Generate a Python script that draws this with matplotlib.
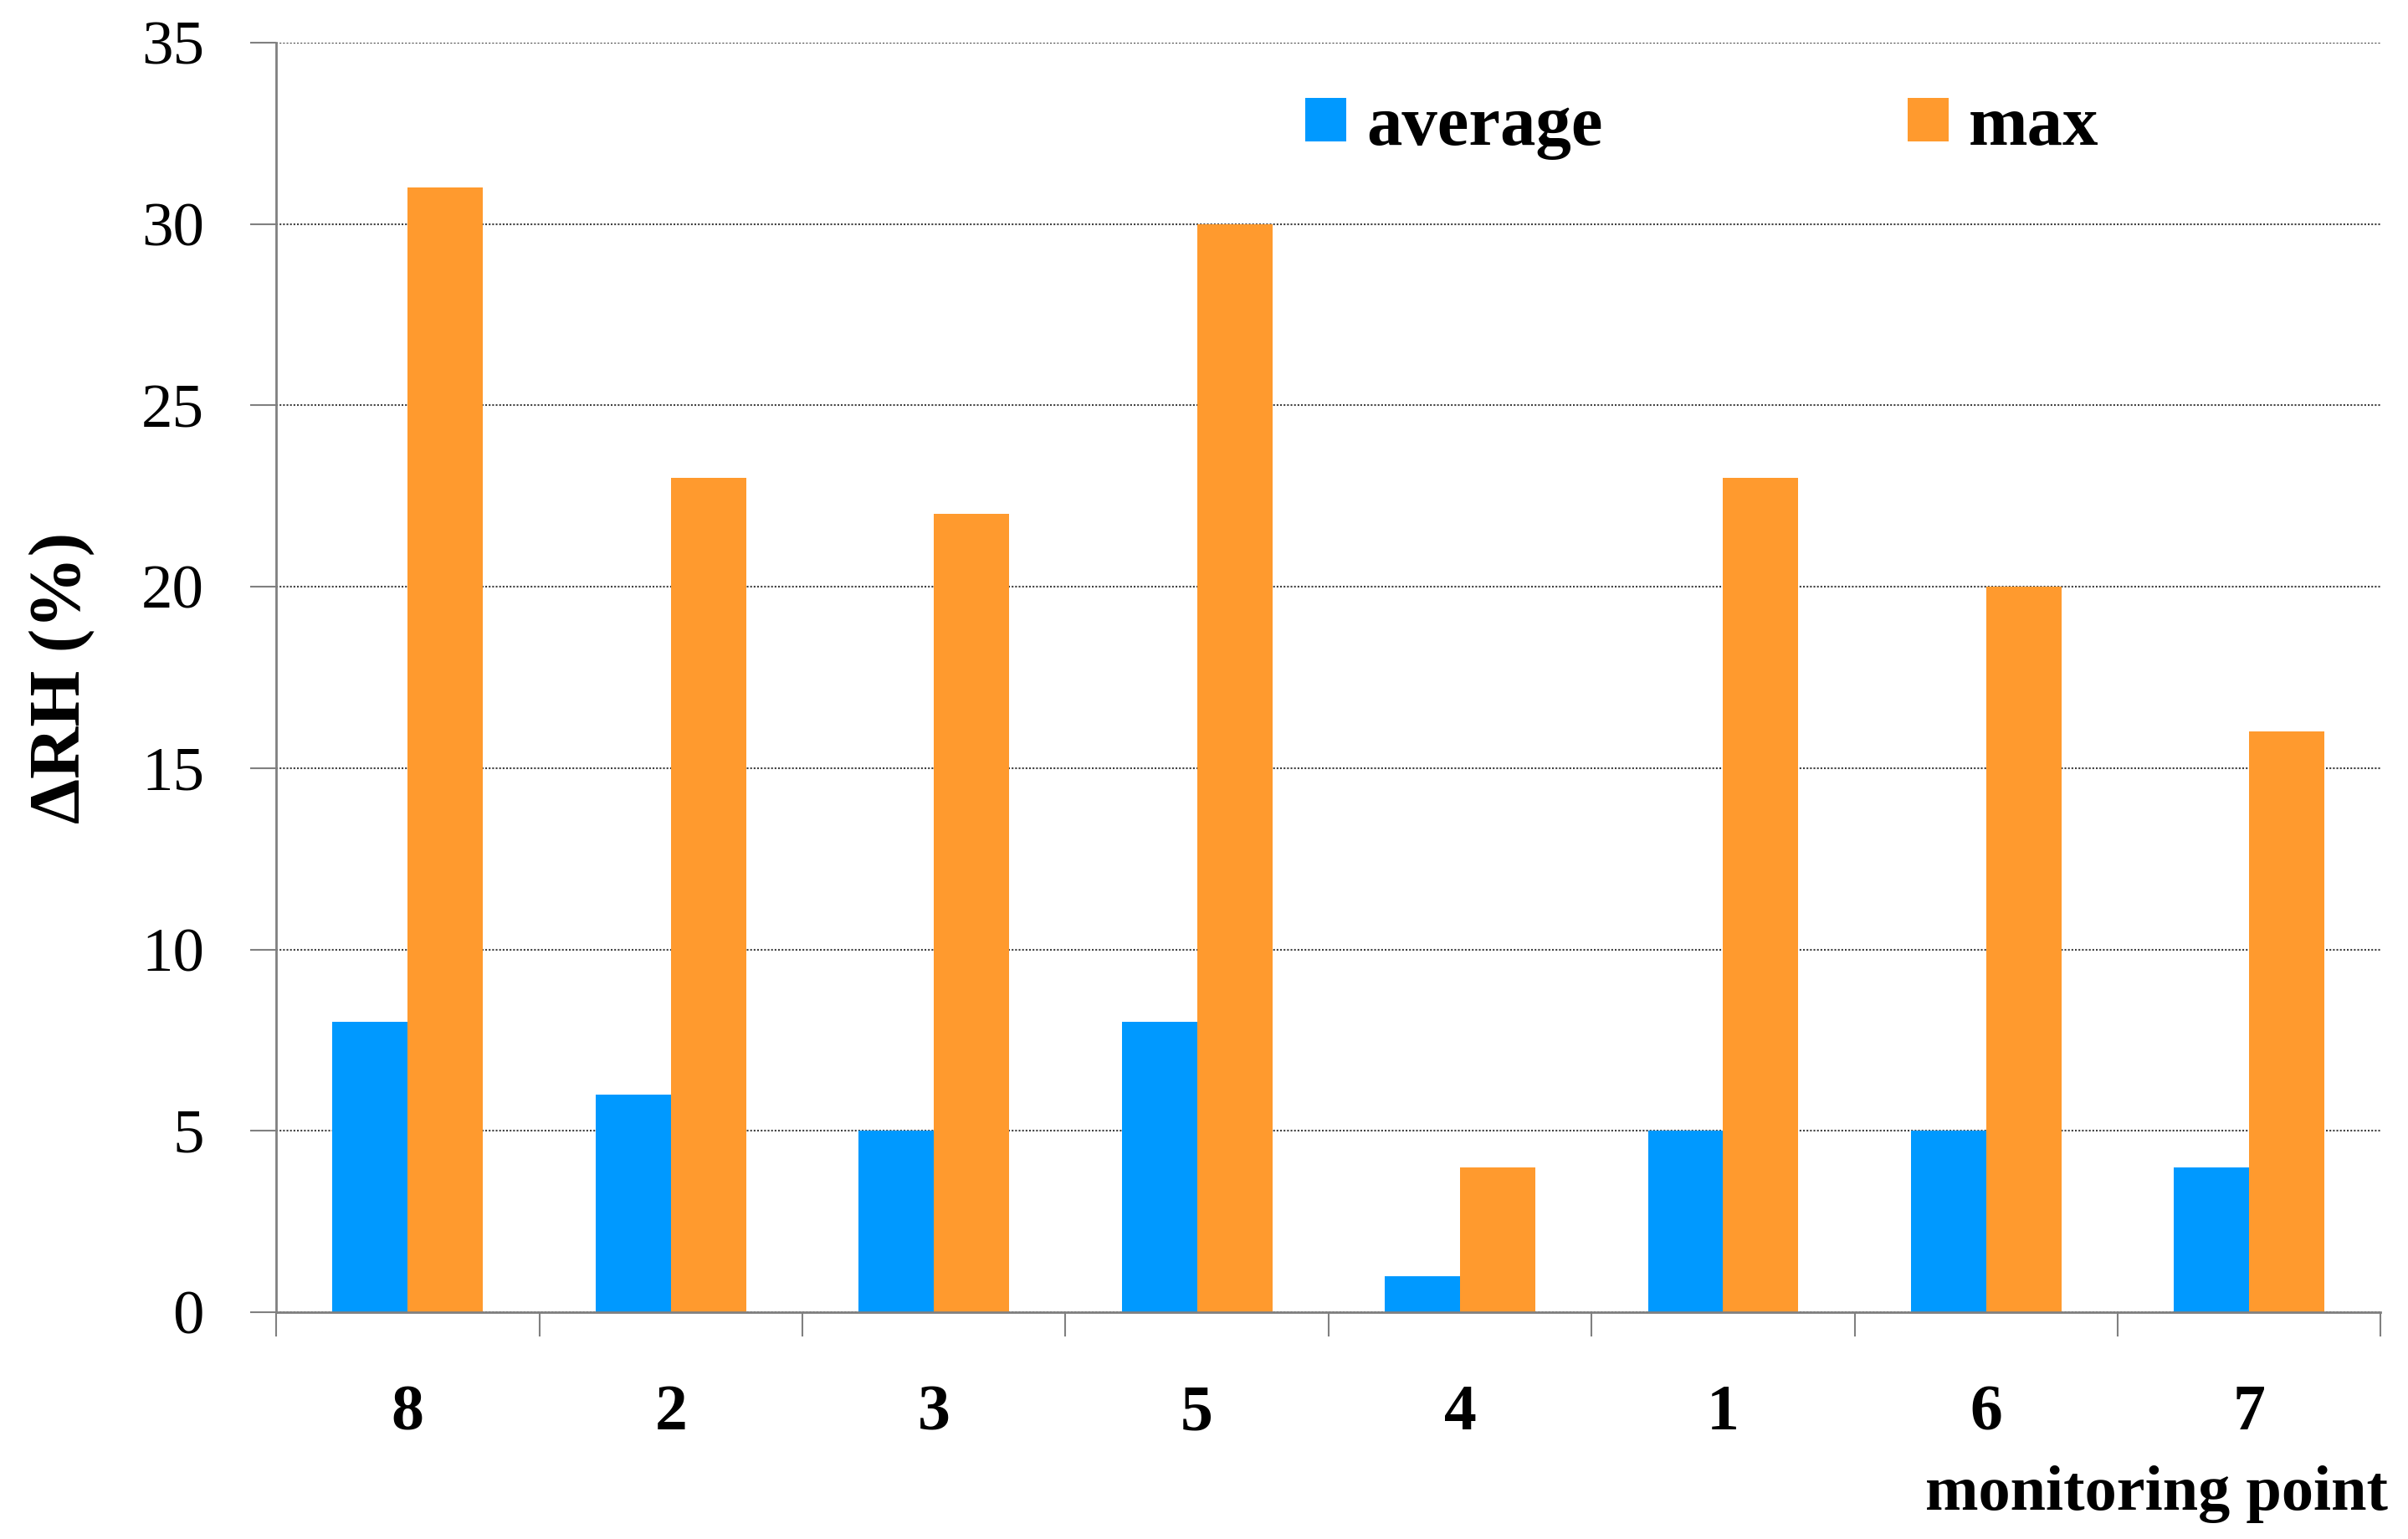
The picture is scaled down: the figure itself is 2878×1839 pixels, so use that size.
import matplotlib
matplotlib.use('Agg')
import matplotlib.pyplot as plt
import numpy as np

# monitoring points, in the order they are shown
points = ['8', '2', '3', '5', '4', '1', '6', '7']
avg_rh = [8, 6, 5, 8, 1, 5, 5, 4]
max_rh = [31, 23, 22, 30, 4, 23, 20, 16]
y_ticks = [0, 5, 10, 15, 20, 25, 30, 35]

BLUE = '#0099FF'
ORANGE = '#FF9A2E'
GREY = '#808080'

plt.rcParams['font.family'] = ['Liberation Serif', 'DejaVu Serif']

fig = plt.figure(figsize=(28.78, 18.39), dpi=100)
ax = fig.add_axes([0.1147, 0.1474, 0.9887 - 0.1147, 0.9723 - 0.1474])

x = np.arange(len(points))
w = 0.286
ax.bar(x - w / 2, avg_rh, w, color=BLUE, label='average', zorder=3)
ax.bar(x + w / 2, max_rh, w, color=ORANGE, label='max', zorder=3)

ax.set_xlim(-0.5, len(points) - 0.5)
ax.set_ylim(0, 35)

# y axis
ax.set_yticks(y_ticks)
ax.set_yticklabels([str(v) for v in y_ticks], fontsize=54)
ax.tick_params(axis='y', direction='out', length=22, width=1.5, color=GREY, pad=40)
ax.yaxis.grid(True, linestyle=(0, (1, 1)), color='#404040', linewidth=1.5, zorder=0)

# x axis: labels in the middle, ticks between groups
ax.set_xticks(x)
ax.set_xticklabels(points, fontsize=56, fontweight='bold')
ax.set_xticks(np.arange(-0.5, len(points), 1.0), minor=True)
ax.tick_params(axis='x', which='major', length=0, pad=62)
ax.tick_params(axis='x', which='minor', direction='out', length=21, width=1.5, color=GREY)

for s in ['top', 'right']:
    ax.spines[s].set_visible(False)
for s in ['left', 'bottom']:
    ax.spines[s].set_color(GREY)
    ax.spines[s].set_linewidth(2)
    ax.spines[s].set_zorder(4)

ax.set_ylabel('ΔRH (%)', fontsize=62, fontweight='bold', labelpad=40)

ax.legend(loc='center left', bbox_to_anchor=(0.489, 0.933), ncol=2, frameon=False,
          prop={'size': 61, 'weight': 'bold'}, handlelength=0.58, handleheight=0.57,
          handletextpad=0.28, columnspacing=4.3, borderpad=0, borderaxespad=0)

fig.text(0.9917, 0.019, 'monitoring point', ha='right', va='baseline',
         fontsize=55, fontweight='bold')

fig.savefig('out.png', dpi=100)
